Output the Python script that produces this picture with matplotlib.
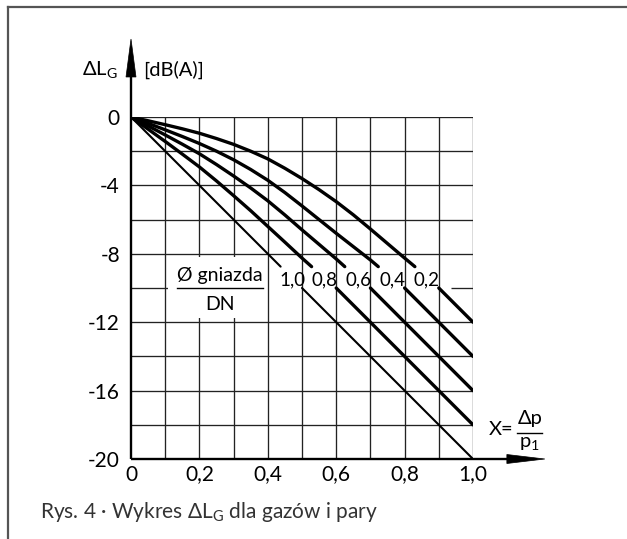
import numpy as np
import matplotlib
matplotlib.use("Agg")
import matplotlib.pyplot as plt
from matplotlib.patches import Polygon, Rectangle
from matplotlib.lines import Line2D

plt.rcParams['font.family'] = ['Lato', 'DejaVu Sans']
plt.rcParams['mathtext.fontset'] = 'custom'
plt.rcParams['mathtext.rm'] = 'Lato'
plt.rcParams['mathtext.default'] = 'regular'

# ---------------- data ----------------
x_ticks = [0, 0.2, 0.4, 0.6, 0.8, 1.0]
x_tick_labels = ['0', '0,2', '0,4', '0,6', '0,8', '1,0']
y_ticks = [0, -4, -8, -12, -16, -20]
y_tick_labels = ['0', '-4', '-8', '-12', '-16', '-20']

ratios = [1.0, 0.8, 0.6, 0.4, 0.2]
ratio_labels = ['1,0', '0,8', '0,6', '0,4', '0,2']

# upper (curved) parts, above the labels
c10_x = [0, 0.4375]
c10_y = [0, -8.75]
c08_x = [0, 0.05, 0.1, 0.15, 0.2, 0.25, 0.3, 0.35, 0.4, 0.45, 0.5, 0.528]
c08_y = [0, -0.71, -1.43, -2.17, -2.92, -3.74, -4.6, -5.48, -6.4, -7.32, -8.25, -8.75]
c06_x = [0, 0.05, 0.1, 0.15, 0.2, 0.25, 0.3, 0.35, 0.4, 0.45, 0.5, 0.55, 0.6, 0.625]
c06_y = [0, -0.52, -1.05, -1.59, -2.15, -2.78, -3.45, -4.15, -4.9, -5.73, -6.6, -7.45, -8.3, -8.75]
c04_x = [0, 0.05, 0.1, 0.15, 0.2, 0.25, 0.3, 0.35, 0.4, 0.45, 0.5, 0.55, 0.6, 0.65, 0.7, 0.723]
c04_y = [0, -0.37, -0.75, -1.14, -1.55, -2.0, -2.5, -3.07, -3.7, -4.42, -5.2, -6.0, -6.8, -7.58, -8.36, -8.75]
c02_x = [0, 0.05, 0.1, 0.15, 0.2, 0.25, 0.3, 0.35, 0.4, 0.45, 0.5, 0.55, 0.6, 0.65, 0.7, 0.75, 0.8, 0.83]
c02_y = [0, -0.22, -0.45, -0.69, -0.95, -1.26, -1.6, -2.0, -2.45, -3.0, -3.6, -4.25, -4.95, -5.72, -6.55, -7.4, -8.25, -8.75]

# lower (straight) parts, below the labels
low_start_x = [0.5, 0.6, 0.7, 0.8, 0.9]
low_start_y = [-10, -10, -10, -10, -10]
low_end_x = [1.0, 1.0, 1.0, 1.0, 1.0]
low_end_y = [-20, -18, -16, -14, -12]

label_x = [0.472, 0.567, 0.665, 0.766, 0.865]

upper_x = [c10_x, c08_x, c06_x, c04_x, c02_x]
upper_y = [c10_y, c08_y, c06_y, c04_y, c02_y]
line_widths = [1.5, 2.4, 2.4, 2.4, 2.4]

# ---------------- figure ----------------
W, H = 627, 539
fig = plt.figure(figsize=(W / 100, H / 100), dpi=100)
ax = fig.add_axes([131 / W, 80 / H, 342 / W, 342 / H])
ax.set_xlim(0, 1)
ax.set_ylim(-20, 0)
for s in ax.spines.values():
    s.set_visible(False)

gcol = '#222222'
glw = 0.95
# vertical grid lines
for gx in np.arange(0.1, 1.01, 0.1):
    ax.vlines(gx, -20, 0, color=gcol, lw=glw, zorder=1)
# horizontal grid lines
for gy in np.arange(-18, 0.5, 2):
    if abs(gy + 10) < 1e-6:
        ax.hlines(gy, 0, 0.11, color=gcol, lw=glw, zorder=1)
        ax.hlines(gy, 0.935, 1.0, color=gcol, lw=glw, zorder=1)
    else:
        ax.hlines(gy, 0, 1, color=gcol, lw=glw, zorder=1)

# white area behind the fraction label
ax.add_patch(Rectangle((0.108, -11.75), 0.287, 3.55, fc='white', ec='none', zorder=1.5))

# axes with arrows
ax.plot([0, 0], [-20, 2.4], color='k', lw=1.7, clip_on=False, solid_capstyle='butt', zorder=4)
ax.add_patch(Polygon([[-0.0146, 2.34], [0.0146, 2.34], [0, 4.56]], closed=True,
                     fc='k', ec='k', lw=0.5, clip_on=False, zorder=4))
ax.plot([0, 1.1], [-20, -20], color='k', lw=1.7, clip_on=False, solid_capstyle='butt', zorder=4)
ax.add_patch(Polygon([[1.099, -20.263], [1.099, -19.737], [1.21, -20]], closed=True,
                     fc='k', ec='k', lw=0.5, clip_on=False, zorder=4))

# curves
for i in range(len(ratios)):
    ax.plot(upper_x[i], upper_y[i], color='k', lw=line_widths[i], zorder=3,
            solid_capstyle='round', solid_joinstyle='round')
    ax.plot([low_start_x[i], low_end_x[i]], [low_start_y[i], low_end_y[i]], color='k',
            lw=line_widths[i], zorder=3, solid_capstyle='round')
    ax.text(label_x[i], -9.82, ratio_labels[i], ha='center', va='baseline', fontsize=13.5, zorder=5)

# ticks
ax.set_xticks(x_ticks, x_tick_labels)
ax.set_yticks(y_ticks, y_tick_labels)
ax.tick_params(axis='both', length=0, labelsize=15)
ax.tick_params(axis='x', pad=4)
ax.tick_params(axis='y', pad=8)

# y-axis label
ax.text(-0.038, 2.75, '\u0394L$_{G}$', ha='right', va='center', fontsize=14.5, clip_on=False)
ax.text(0.035, 2.75, '[dB(A)]', ha='left', va='center', fontsize=14.5, clip_on=False)

# x-axis label  X = Δp / p1
ax.text(1.082, -18.25, 'X=', ha='center', va='center', fontsize=14.5, clip_on=False)
ax.text(1.166, -17.62, '\u0394p', ha='center', va='center', fontsize=14.5, clip_on=False)
ax.plot([1.129, 1.202], [-18.46, -18.46], color='k', lw=1.0, clip_on=False)
ax.text(1.166, -19.1, 'p$_{1}$', ha='center', va='center', fontsize=14.5, clip_on=False)

# fraction label  Ø gniazda / DN
ax.text(0.26, -9.59, '\u00d8 gniazda', ha='center', va='baseline', fontsize=14, zorder=5)
ax.plot([0.134, 0.387], [-10.02, -10.02], color='k', lw=1.0, zorder=5)
ax.text(0.26, -11.29, 'DN', ha='center', va='baseline', fontsize=14, zorder=5)

# frame and caption
fig.add_artist(Line2D([8 / W, 1], [1 - 7 / H, 1 - 7 / H], color='#555555', lw=1.6))
fig.add_artist(Line2D([8 / W, 8 / W], [0, 1 - 7 / H], color='#555555', lw=1.6))
fig.text(40 / W, 1 - 518 / H, 'Rys. 4 \u00b7 Wykres \u0394L$_{G}$ dla gaz\u00f3w i pary',
         ha='left', va='baseline', fontsize=15, color='#333333')

fig.savefig('out.png', dpi=100)
